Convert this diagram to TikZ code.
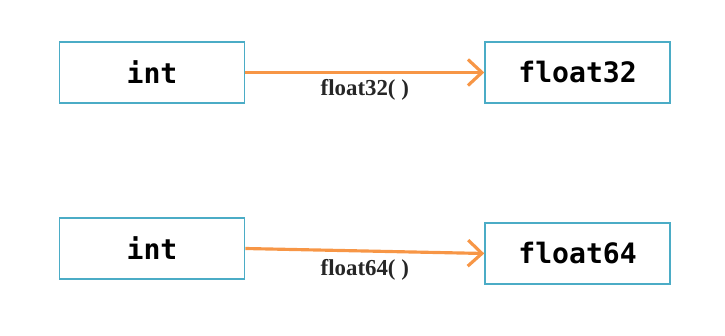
\documentclass[tikz,border=0pt]{standalone}
\usepackage{fontspec}
\setmonofont{DejaVu Sans Mono}
\setmainfont{Liberation Serif}
\usepackage{xcolor}
\usetikzlibrary{arrows.meta, positioning, calc}
\definecolor{boxblue}{HTML}{4BACC6}
\definecolor{arroworange}{HTML}{F79646}

\begin{document}
\begin{tikzpicture}[node distance=4.78cm,
    typebox/.style={rectangle, draw=boxblue, line width=0.9pt, minimum width=3.7cm,
        minimum height=1.22cm, inner sep=0pt, font=\fontsize{16}{18}\selectfont\ttfamily\bfseries},
    convert/.style={draw=arroworange, line width=1.8pt, -{Straight Barb[length=2.8mm, width=5.2mm]}},
    fnlabel/.style={font=\fontsize{13}{15}\selectfont\bfseries, inner sep=1pt, text=black!85}]
    \useasboundingbox (0,0) rectangle (14.5,6.7);
    \node[typebox] (int1) at (3.04,5.25) {int};
    \node[typebox, right=of int1] (f32) {float32};
    \node[typebox] (int2) at (3.04,1.73) {int};
    \node[typebox, right=of int2, yshift=-0.1cm] (f64) {float64};
    \draw[convert] (int1.east) -- node[fnlabel, below=2pt] {float32( )} (f32.west);
    \draw[convert] (int2.east) -- node[fnlabel, below=3pt] {float64( )} (f64.west);
\end{tikzpicture}
\end{document}
